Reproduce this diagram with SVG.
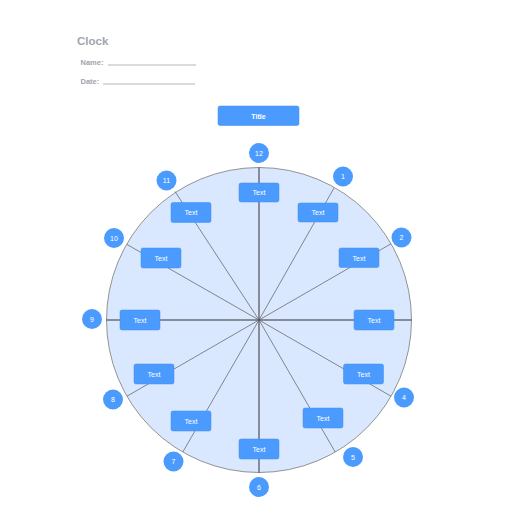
<svg xmlns="http://www.w3.org/2000/svg" width="516" height="516" viewBox="0 0 516 516">
<style>
.hdr{font-family:"Liberation Sans",Arial,sans-serif;fill:#a1a5ad;font-weight:bold}
.ul{stroke:#a1a5ad;stroke-width:0.8}
.box{fill:#4b9bff;stroke:#3d8cf0;stroke-width:0.5}
.num{fill:#4b9bff}
.t{font-family:"Liberation Sans",Arial,sans-serif;font-size:7px;fill:#ffffff;text-anchor:middle;dominant-baseline:central}
.sp{stroke:#5a5a5a;stroke-width:0.7}
.ax{stroke:#333;stroke-width:1}
</style>
<rect width="516" height="516" fill="#ffffff"/>
<g id="header">
<text class="hdr" x="77" y="45" font-size="11.5">Clock</text>
<text class="hdr" x="80.5" y="64.5" font-size="7.5">Name:</text>
<line class="ul" x1="108" y1="65" x2="196" y2="65"/>
<text class="hdr" x="80.5" y="83.5" font-size="7.5">Date:</text>
<line class="ul" x1="103" y1="84" x2="195" y2="84"/>
</g>
<g id="title">
<rect class="box" x="218" y="106" width="81" height="19.5" rx="2"/>
<text class="t" x="258.5" y="116" font-weight="bold" font-size="7.5">Title</text>
</g>
<g id="clockface">
<circle cx="259" cy="320" r="152.5" fill="#d9e8fe" stroke="#7a7a7a" stroke-width="0.8"/>
</g>
<g id="connectors">
<line class="ax" x1="259" y1="167.5" x2="259" y2="472.5"/>
<line class="ax" x1="106.5" y1="320" x2="411.5" y2="320"/>
<line class="sp" x1="259" y1="320" x2="334" y2="188"/>
<line class="sp" x1="259" y1="320" x2="391" y2="243.8"/>
<line class="sp" x1="259" y1="320" x2="391" y2="396.2"/>
<line class="sp" x1="259" y1="320" x2="335.2" y2="452"/>
<line class="sp" x1="259" y1="320" x2="182.8" y2="452"/>
<line class="sp" x1="259" y1="320" x2="127" y2="396.2"/>
<line class="sp" x1="259" y1="320" x2="127" y2="244.5"/>
<line class="sp" x1="259" y1="320" x2="175" y2="191.5"/>
</g>
<g id="box12"><rect class="box" x="239" y="183" width="40" height="19" rx="2"/><text class="t" x="259" y="192.5">Text</text></g>
<g id="box1"><rect class="box" x="298" y="203" width="40" height="19" rx="2"/><text class="t" x="318" y="212.5">Text</text></g>
<g id="box2"><rect class="box" x="339" y="248" width="40" height="19.5" rx="2"/><text class="t" x="359" y="258">Text</text></g>
<g id="box3"><rect class="box" x="354" y="310" width="40" height="20" rx="2"/><text class="t" x="374" y="320">Text</text></g>
<g id="box4"><rect class="box" x="343.5" y="364" width="40" height="20" rx="2"/><text class="t" x="363.5" y="374">Text</text></g>
<g id="box5"><rect class="box" x="303" y="408" width="40" height="20" rx="2"/><text class="t" x="323" y="418">Text</text></g>
<g id="box6"><rect class="box" x="239" y="439" width="40" height="20" rx="2"/><text class="t" x="259" y="449">Text</text></g>
<g id="box7"><rect class="box" x="171" y="411" width="40" height="20" rx="2"/><text class="t" x="191" y="421">Text</text></g>
<g id="box8"><rect class="box" x="134" y="364" width="40" height="20" rx="2"/><text class="t" x="154" y="374">Text</text></g>
<g id="box9"><rect class="box" x="120" y="310" width="40" height="20" rx="2"/><text class="t" x="140" y="320">Text</text></g>
<g id="box10"><rect class="box" x="141" y="248" width="40" height="20" rx="2"/><text class="t" x="161" y="258">Text</text></g>
<g id="box11"><rect class="box" x="171" y="202.5" width="40" height="20" rx="2"/><text class="t" x="191" y="212.5">Text</text></g>
<g id="n12"><circle class="num" cx="259" cy="153" r="10"/><text class="t" x="259" y="153">12</text></g>
<g id="n1"><circle class="num" cx="343" cy="176.5" r="10"/><text class="t" x="343" y="176.5">1</text></g>
<g id="n2"><circle class="num" cx="401.5" cy="237.5" r="10"/><text class="t" x="401.5" y="237.5">2</text></g>
<g id="n4"><circle class="num" cx="404" cy="397.5" r="10"/><text class="t" x="404" y="397.5">4</text></g>
<g id="n5"><circle class="num" cx="353" cy="457" r="10"/><text class="t" x="353" y="457">5</text></g>
<g id="n6"><circle class="num" cx="259" cy="487" r="10"/><text class="t" x="259" y="487">6</text></g>
<g id="n7"><circle class="num" cx="173.5" cy="461.5" r="10"/><text class="t" x="173.5" y="461.5">7</text></g>
<g id="n8"><circle class="num" cx="113" cy="399.5" r="10"/><text class="t" x="113" y="399.5">8</text></g>
<g id="n9"><circle class="num" cx="92" cy="319" r="10"/><text class="t" x="92" y="319">9</text></g>
<g id="n10"><circle class="num" cx="114" cy="238" r="10"/><text class="t" x="114" y="238">10</text></g>
<g id="n11"><circle class="num" cx="166.5" cy="180.5" r="10"/><text class="t" x="166.5" y="180.5">11</text></g>
</svg>
